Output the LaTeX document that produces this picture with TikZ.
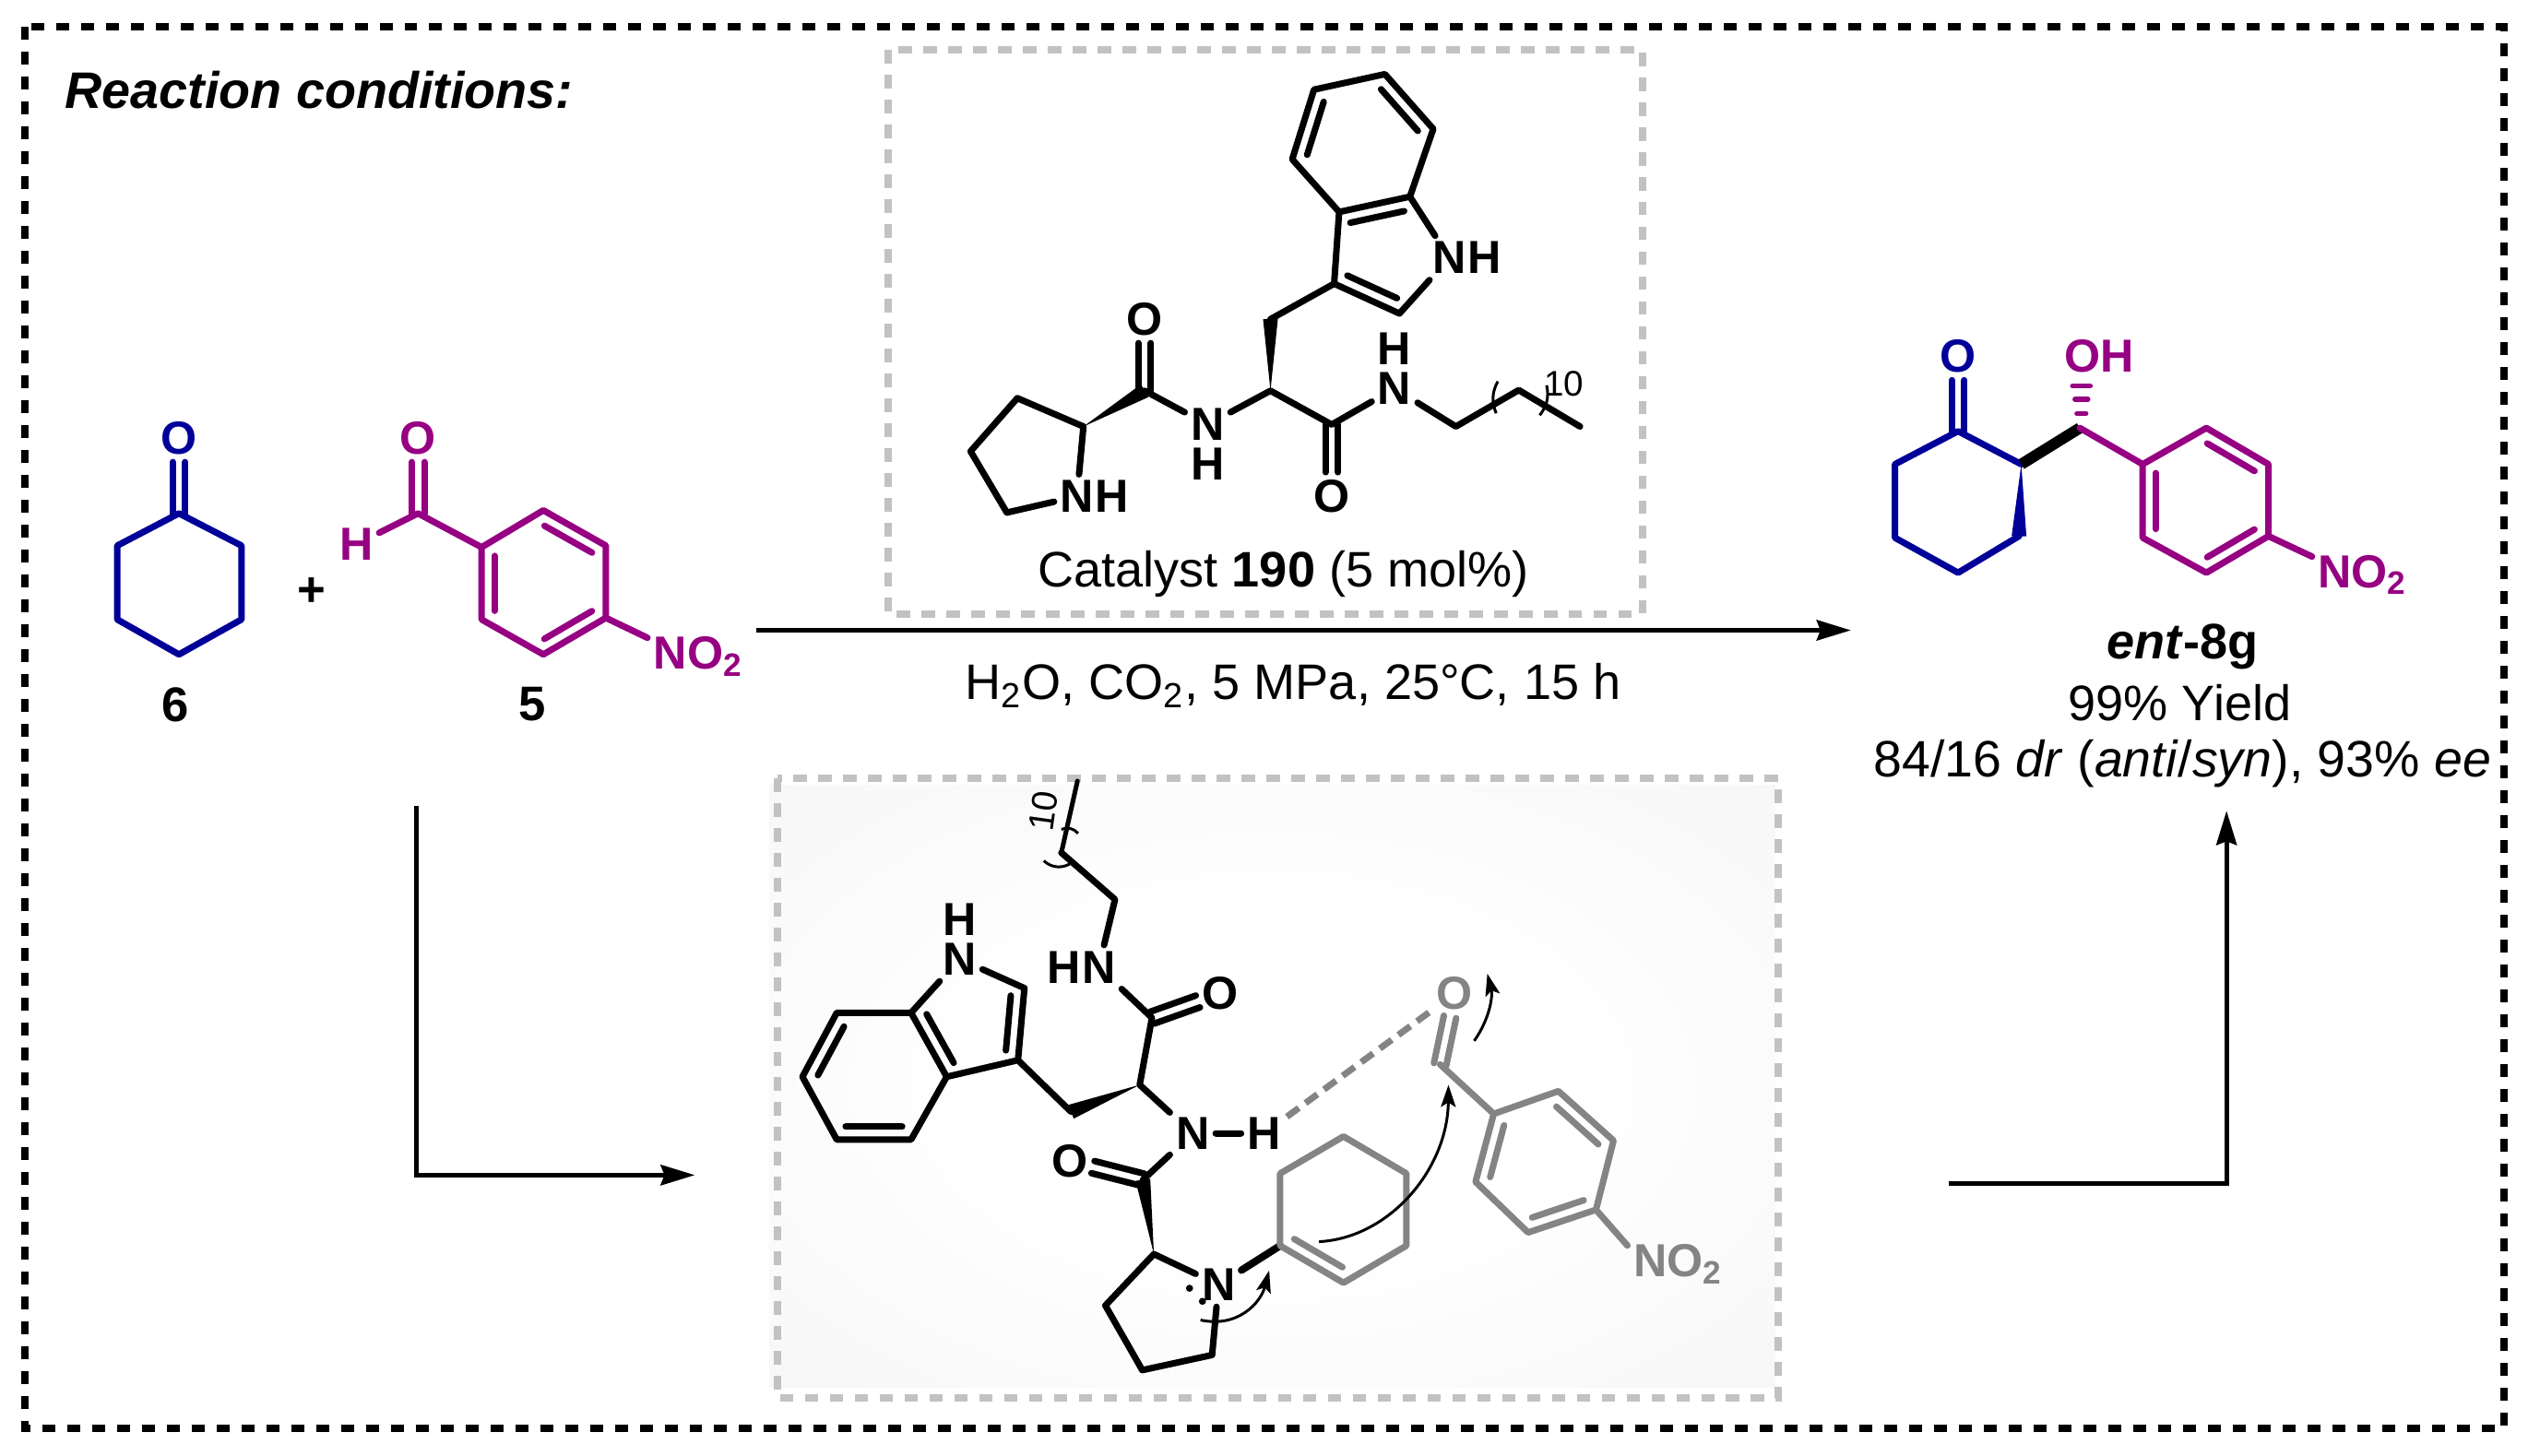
\documentclass[tikz,border=0pt]{standalone}
\usepackage{fontspec}
\setmainfont{Liberation Sans}
\usetikzlibrary{arrows.meta,calc,positioning}
\definecolor{ketone}{HTML}{000099}
\definecolor{aldehyde}{HTML}{960082}
\definecolor{faded}{HTML}{848484}
\definecolor{boxline}{HTML}{C2C2C2}
\definecolor{glow}{HTML}{F2F2F2}
\pgfdeclareradialshading{tsglow}{\pgfpoint{0bp}{0bp}}{color(0bp)=(white);color(14bp)=(white);color(50bp)=(glow);color(100bp)=(glow)}
\tikzset{
    atom/.style={font=\fontsize{14.3}{16}\selectfont\bfseries, inner sep=.06cm},
    label/.style={font=\fontsize{15.4}{18}\selectfont, inner sep=0pt},
    bond/.style={line width=.07cm, line cap=round, line join=round},
    link/.style={line width=.05cm, -{Stealth[length=.37cm,width=.22cm,inset=.04cm]}},
    curly/.style={line width=.03cm, -{Stealth[length=.24cm,width=.16cm,inset=.05cm]}},
    bracket/.style={line width=.03cm},
    outer/.style={line width=.08cm, dash pattern=on .14cm off .13cm},
    inner/.style={draw=boxline, line width=.08cm, dash pattern=on .145cm off .125cm}
}
\newcommand{\dblbond}[3][black]{
  \draw[bond,#1,shorten >=.26cm] ($(#2)!.068cm!90:(#3)$) -- ($(#3)!.068cm!-90:(#2)$);
  \draw[bond,#1,shorten >=.26cm] ($(#2)!.068cm!-90:(#3)$) -- ($(#3)!.068cm!90:(#2)$);
}
\newcommand{\ringbond}[3][black]{
  \draw[bond,#1] ($(#2)!.12!(#3)!.14cm!90:(#3)$) -- ($(#3)!.12!(#2)!.14cm!-90:(#2)$);
}
\newcommand{\wedgebond}[3][black]{
  \fill[#1] (#2) -- ($(#3)!.08cm!90:(#2)$) -- ($(#3)!.08cm!-90:(#2)$) -- cycle;
}

\begin{document}
\begin{tikzpicture}
  [
    x = .01748cm,
    y = -.01748cm,
  ]
  \useasboundingbox (0,0) rectangle (1568,903);
  \draw[outer] (15.4,16.6) rectangle (1553,886);
  \draw[inner] (551,31) rectangle (1019,381);
  \shade[shading=tsglow] (477,487) rectangle (1101,860.5);
  \draw[inner] (482,483) rectangle (1103,867.2);

  \node[label, anchor=west, font=\fontsize{15.85}{18}\selectfont\bfseries\itshape] (title) at (40,56) {Reaction conditions:};

  \foreach \name/\x/\y in {k1/111/318.5, k2/149.8/338.5, k3/149.8/384.3, k4/111/406, k5/72.7/384.3, k6/72.7/338.5,
      f0/259.3/318.5, f1/298.7/339.5, f2/337/316.6, f3/375.8/338.5, f4/375.8/383.3, f5/337/406, f6/298.7/384.3}
    \coordinate (\name) at (\x,\y);
  \node[atom, ketone] (kO) at (111,271.8) {O};
  \node[atom, aldehyde] (fO) at (259.3,271.8) {O};
  \node[atom, aldehyde] (fH) at (221,337.6) {H};
  \node[atom, aldehyde, anchor=base west] (fNO) at (401.6,415) {NO\textsubscript{2}};
  \draw[bond, ketone] (k1) -- (k2) -- (k3) -- (k4) -- (k5) -- (k6) -- cycle;
  \dblbond[ketone]{k1}{kO}
  \draw[bond, aldehyde] (f1) -- (f2) -- (f3) -- (f4) -- (f5) -- (f6) -- cycle;
  \draw[bond, aldehyde] (fH) -- (f0) -- (f1);
  \draw[bond, aldehyde] (f4) -- (fNO.160);
  \dblbond[aldehyde]{f0}{fO}
  \ringbond[aldehyde]{f1}{f6}
  \ringbond[aldehyde]{f5}{f4}
  \ringbond[aldehyde]{f3}{f2}
  \node[label, font=\fontsize{15}{18}\selectfont\bfseries] (six) at (109,437) {6};
  \node[label, font=\fontsize{15}{18}\selectfont\bfseries] (five) at (330,437) {5};
  \node[label, font=\fontsize{15}{18}\selectfont\bfseries] (plus) at (193.3,367) {+};

  \foreach \name/\x/\y in {a1/815/55.6, a2/859/46, a3/889/80, a4/874.5/122, a5/830.6/131.5, a6/801.5/98.8,
      a7/868/194.5, a8/827.5/176, a9/788/198, c1/788/242.4, c2/826/263.4, c3/903/264.6, c4/942/242, c5/980/264.6,
      c6/710/242.4, p1/672/264.6, p2/631/247, p3/602/280, p4/624.5/318}
    \coordinate (\name) at (\x,\y);
  \node[atom] (aN) at (899,160) {N};
  \node[atom, right=-.12cm of aN] (aH) {H};
  \node[atom] (cO) at (826,307.8) {O};
  \node[atom] (cN) at (865,241) {N};
  \node[atom, above=-.05cm of cN] (cH) {H};
  \node[atom] (dN) at (749,263.4) {N};
  \node[atom, below=-.05cm of dN] (dH) {H};
  \node[atom] (dO) at (710,198) {O};
  \node[atom] (pN) at (668,308) {N};
  \node[atom, right=-.12cm of pN] (pH) {H};
  \draw[bond] (a4) -- (a3) -- (a2) -- (a1) -- (a6) -- (a5) -- cycle;
  \draw[bond] (a4) -- (aN) -- (a7) -- (a8) -- (a5);
  \ringbond{a1}{a6}
  \ringbond{a3}{a2}
  \ringbond{a4}{a5}
  \ringbond{a8}{a7}
  \draw[bond] (a8) -- (a9);
  \wedgebond{c1}{a9}
  \draw[bond] (dN) -- (c1) -- (c2) -- (cN) -- (c3) -- (c4) -- (c5);
  \dblbond{c2}{cO}
  \dblbond{c6}{dO}
  \draw[bond] (dN) -- (c6);
  \wedgebond{p1}{c6}
  \draw[bond] (pN) -- (p1) -- (p2) -- (p3) -- (p4) -- (pN);
  \coordinate (cb1) at (929,236.6);
  \coordinate (cb2) at (928,256.4);
  \coordinate (cb3) at (959.3,239);
  \coordinate (cb4) at (955,257.6);
  \draw[bracket] (cb1) to[bend right=25] (cb2);
  \draw[bracket] (cb3) to[bend left=25] (cb4);
  \node[label, font=\fontsize{11}{12}\selectfont] (cten) at (970,238) {10};
  \node[label] (catalyst) at (796,356) {Catalyst \textbf{190} (5 mol\%)};

  \coordinate (start) at (469,391);
  \coordinate (finish) at (1148,391);
  \draw[link] (start) -- (finish);
  \node[label] (cond) at (802,425) {H\textsubscript{2}O, CO\textsubscript{2}, 5 MPa, 25°C, 15 h};

  \foreach \name/\x/\y in {e0/1290/265.5, e1/1214.5/267.5, e2/1253.7/288, e3/1252.3/332.6, e4/1214.5/355.3, e5/1175.3/333.6, e6/1175.3/288,
      g1/1329/288, g2/1368.5/265.5, g3/1407/288, g4/1407/332.6, g5/1368.5/355.3, g6/1329/333.6}
    \coordinate (\name) at (\x,\y);
  \node[atom, ketone] (eO) at (1214.5,221) {O};
  \node[atom, aldehyde] (eOH) at (1302,221) {OH};
  \node[atom, aldehyde, anchor=base west] (eNO) at (1434,364.6) {NO\textsubscript{2}};
  \draw[bond, ketone] (e2) -- (e1) -- (e6) -- (e5) -- (e4) -- (e3);
  \wedgebond[ketone]{e2}{e3}
  \dblbond[ketone]{e1}{eO}
  \draw[line width=.12cm] (e2) -- (e0);
  \draw[bond, aldehyde] (g1) -- (g2) -- (g3) -- (g4) -- (g5) -- (g6) -- cycle;
  \draw[bond, aldehyde] (e0) -- (g1);
  \draw[bond, aldehyde] (g4) -- (eNO.160);
  \ringbond[aldehyde]{g1}{g6}
  \ringbond[aldehyde]{g5}{g4}
  \ringbond[aldehyde]{g3}{g2}
  \foreach \yy/\ww in {239.5/5.5, 247.8/4, 256.6/2.8}
    \draw[bond, aldehyde, line width=.055cm] ({1291-\ww},\yy) -- ({1291+\ww},\yy);
  \node[label] (entry) at (1353.7,401) {\textbf{\textit{ent}-8g}};
  \node[label] (yield) at (1352,436) {99\% Yield};
  \node[label, font=\fontsize{15.8}{18}\selectfont] (ratio) at (1353.7,474) {84/16 \textit{dr} (\textit{anti}/\textit{syn}), 93\% \textit{ee}};

  \foreach \name/\x/\y in {t1/668.3/484.5, t2/658.3/529, t3/691.6/558, t4/714.5/631.4, t5/706.9/673, t6/664.3/689.7,
      i3/631.4/657.7, i2/635.4/613, i7/565.1/628.3, i8/587.2/668, i9/519/628.3, i10/497.7/668, i11/519/707, i12/565.1/707,
      t7/708.9/731.9, r1/715.7/778, r2/685.6/809.9, r3/708.5/850, r4/751.8/840.6}
    \coordinate (\name) at (\x,\y);
  \node[atom] (iN) at (595.2,595) {N};
  \node[atom, above=-.05cm of iN] (iH) {H};
  \node[atom] (tN) at (681.5,600) {N};
  \node[atom, left=-.12cm of tN] (tH) {H};
  \node[atom] (tO) at (757,616.3) {O};
  \node[atom] (mN) at (739.8,703.2) {N};
  \node[atom] (mH) at (784,703.2) {H};
  \node[atom] (mO) at (663.5,720.4) {O};
  \node[atom] (rN) at (755.8,797) {N};
  \draw[bond, line width=.05cm] (t1) -- (t2);
  \draw[bond] (t2) -- (t3) -- (tN) -- (t4) -- (t5) -- (mN) -- (mH);
  \dblbond{t4}{tO}
  \wedgebond{t5}{t6}
  \draw[bond] (t6) -- (i3) -- (i2) -- (iN) -- (i7) -- (i8) -- (i3);
  \draw[bond] (i7) -- (i9) -- (i10) -- (i11) -- (i12) -- (i8);
  \ringbond{i3}{i2}
  \ringbond{i7}{i8}
  \ringbond{i9}{i10}
  \ringbond{i11}{i12}
  \draw[bond] (mN) -- (t7);
  \dblbond{t7}{mO}
  \wedgebond{r1}{t7}
  \draw[bond] (rN) -- (r1) -- (r2) -- (r3) -- (r4) -- (rN);
  \fill (737.8,799.2) circle (2.2);
  \fill (745.8,807.3) circle (2.2);
  \coordinate (tb1) at (647.4,534);
  \coordinate (tb2) at (663.5,536);
  \coordinate (tb3) at (658.3,514.5);
  \coordinate (tb4) at (668.7,517);
  \draw[bracket] (tb1) to[bend right=35] (tb2);
  \draw[bracket] (tb3) to[bend left=35] (tb4);
  \node[label, rotate=82, font=\fontsize{11}{12}\selectfont] (tten) at (647,503) {10};

  \foreach \name/\x/\y in {s1/794/772.8, s2/794/728, s3/833.3/705, s4/872.3/728, s5/872.3/772.8, s6/833.3/795.8,
      u0/893.2/660.3, u1/926.5/691, u2/966.6/676.9, u3/1000.8/707.6, u4/989.9/750.5, u5/947.8/764.6, u6/915.2/733.2}
    \coordinate (\name) at (\x,\y);
  \node[atom, faded] (uO) at (902.4,616.3) {O};
  \node[atom, faded, anchor=base west] (uNO) at (1009.4,792) {NO\textsubscript{2}};
  \draw[bond, line width=.08cm] (rN) -- (s1);
  \draw[bond, faded] (s1) -- (s2) -- (s3) -- (s4) -- (s5) -- (s6) -- cycle;
  \ringbond[faded]{s1}{s6}
  \draw[bond, faded] (u0) -- (u1) -- (u2) -- (u3) -- (u4) -- (u5) -- (u6) -- (u1);
  \draw[bond, faded] (u4) -- (uNO.160);
  \dblbond[faded]{u0}{uO}
  \ringbond[faded]{u1}{u6}
  \ringbond[faded]{u5}{u4}
  \ringbond[faded]{u3}{u2}
  \draw[faded, line width=.07cm, dash pattern=on .16cm off .09cm] (mH) -- (uO);

  \coordinate (ca1) at (744.6,818.9);
  \coordinate (ca2) at (787.2,788.2);
  \coordinate (cb5) at (818.1,770.3);
  \coordinate (cb6) at (898.4,673);
  \coordinate (cc1) at (914.4,645.7);
  \coordinate (cc2) at (922.5,604);
  \draw[curly] (ca1) .. controls (768,824) and (782,808) .. (ca2);
  \draw[curly] (cb5) .. controls (862,768) and (898,725) .. (cb6);
  \draw[curly] (cc1) .. controls (924,632) and (926,618) .. (cc2);

  \coordinate (down1) at (258,500);
  \coordinate (down2) at (258,729);
  \coordinate (down3) at (431,729);
  \draw[link] (down1) -- (down2) -- (down3);
  \coordinate (up1) at (1209,734);
  \coordinate (up2) at (1381,734);
  \coordinate (up3) at (1381,503);
  \draw[link] (up1) -- (up2) -- (up3);
\end{tikzpicture}
\end{document}
